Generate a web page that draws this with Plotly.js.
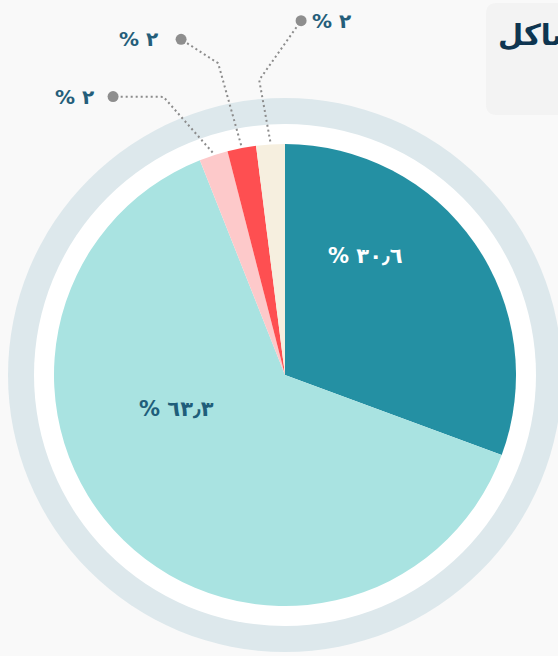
<!DOCTYPE html>
<html><head><meta charset="utf-8">
<script src="https://cdn.plot.ly/plotly-3.0.1.min.js"></script>
<style>html,body{margin:0;padding:0;background:#f9f9f9;overflow:hidden}#chart{width:558px;height:656px}</style>
</head><body><div id="chart"></div>
<script>
// ---- data ----
const categories = ['الفئة الأولى', 'الفئة الثانية', 'الفئة الثالثة', 'الفئة الرابعة', 'الفئة الخامسة'];
const values = [30.6, 63.3, 2, 2, 2];
const titleText = 'مشاكل';

// ---- style ----
const sliceColors = ['#2490a3', '#a9e3e1', '#fdc9ca', '#fe4f51', '#f6efdf'];
const insideTextColors = ['#ffffff', '#1f5e7a'];
const outsideTextColor = '#255e7a';
const FONT = 'DejaVu Sans, sans-serif';

// ---- geometry (pixels) ----
const W = 558, H = 656;
const CX = 285, CY = 375, R = 231, R_WHITE = 251, R_RING = 277;

function toArabicDigits(v) {
  const d = '٠١٢٣٤٥٦٧٨٩';
  return String(v).replace(/[0-9]/g, c => d[+c]).replace('.', '٫');
}
function polar(angDeg, r) {
  const a = angDeg * Math.PI / 180;
  return [CX + r * Math.sin(a), CY - r * Math.cos(a)];
}

// slice mid angles (clockwise from 12 o'clock), as the pie computes them
const total = values.reduce((a, b) => a + b, 0);
const midAngles = [];
let cum = 0;
values.forEach(v => { midAngles.push((cum + v / 2) / total * 360); cum += v; });

// label placement (layout only)
const insideLabelPos = { 0: { ang: 34.0, r: 143.6 }, 1: { ang: -107.2, r: 113.8 } };
const leaderLayout = {
  2: { elbow: { ang: -23.6, r: 303.5 }, dot: { ang: -31.7, r: 327.2 }, side: 'left', gap: 17 },
  3: { elbow: { ang: -12.1, r: 318.8 }, dot: { ang: -17.2, r: 351.4 }, side: 'left', gap: 21 },
  4: { elbow: { ang: -5.0, r: 296.1 }, dot: { ang: 2.6, r: 354.7 }, side: 'right', gap: 9 }
};

const traces = [];
traces.push({
  type: 'pie', values: values, labels: categories, sort: false,
  direction: 'clockwise', rotation: 0, textinfo: 'none', hoverinfo: 'none',
  marker: { colors: sliceColors, line: { width: 0 } },
  domain: { x: [(CX - R) / W, (CX + R) / W], y: [(H - CY - R) / H, (H - CY + R) / H] },
  showlegend: false
});

const annotations = [];
Object.keys(insideLabelPos).forEach(k => {
  const i = +k, p = polar(insideLabelPos[k].ang, insideLabelPos[k].r);
  annotations.push({
    xref: 'x', yref: 'y', x: p[0], y: p[1], xanchor: 'center', yanchor: 'middle', showarrow: false,
    text: '% ' + toArabicDigits(values[i]),
    font: { family: FONT, size: 21, weight: 'bold', color: insideTextColors[i] }
  });
});

Object.keys(leaderLayout).forEach(k => {
  const i = +k, L = leaderLayout[k];
  const s = polar(midAngles[i], R + 3), e = polar(L.elbow.ang, L.elbow.r), d = polar(L.dot.ang, L.dot.r);
  traces.push({
    type: 'scatter', mode: 'lines', x: [s[0], e[0], d[0]], y: [s[1], e[1], d[1]],
    line: { color: '#8c8c8c', width: 2, dash: '2px,3px' }, hoverinfo: 'skip', showlegend: false
  });
  traces.push({
    type: 'scatter', mode: 'markers', x: [d[0]], y: [d[1]],
    marker: { color: '#8e8e8e', size: 11 }, hoverinfo: 'skip', showlegend: false
  });
  annotations.push({
    xref: 'x', yref: 'y', x: d[0], y: d[1], xshift: L.side === 'left' ? -L.gap : L.gap,
    xanchor: L.side === 'left' ? 'right' : 'left', yanchor: 'middle', showarrow: false,
    text: '% ' + toArabicDigits(values[i]),
    font: { family: FONT, size: 20, weight: 'bold', color: outsideTextColor }
  });
});

annotations.push({
  xref: 'x', yref: 'y', x: 496, y: 35, xanchor: 'left', yanchor: 'middle', showarrow: false,
  text: titleText, font: { family: FONT, size: 29, weight: 'bold', color: '#0e3550' }
});

const shapes = [
  { type: 'circle', xref: 'x', yref: 'y', layer: 'below', x0: CX - R_RING, x1: CX + R_RING, y0: CY - R_RING, y1: CY + R_RING,
    fillcolor: '#dde8ec', line: { width: 0 } },
  { type: 'circle', xref: 'x', yref: 'y', layer: 'below', x0: CX - R_WHITE, x1: CX + R_WHITE, y0: CY - R_WHITE, y1: CY + R_WHITE,
    fillcolor: '#ffffff', line: { width: 0 } },
  { type: 'path', xref: 'x', yref: 'y', layer: 'below',
    path: 'M 497,3 L 580,3 L 580,115 L 497,115 Q 486,115 486,104 L 486,14 Q 486,3 497,3 Z',
    fillcolor: '#f3f3f3', line: { width: 0 } }
];

const layout = {
  width: W, height: H, margin: { l: 0, r: 0, t: 0, b: 0 },
  paper_bgcolor: '#f9f9f9', plot_bgcolor: '#f9f9f9',
  xaxis: { range: [0, W], visible: false, fixedrange: true, domain: [0, 1] },
  yaxis: { range: [H, 0], visible: false, fixedrange: true, domain: [0, 1] },
  shapes: shapes, annotations: annotations, showlegend: false
};
Plotly.newPlot('chart', traces, layout, { displayModeBar: false, staticPlot: true });
</script></body></html>
